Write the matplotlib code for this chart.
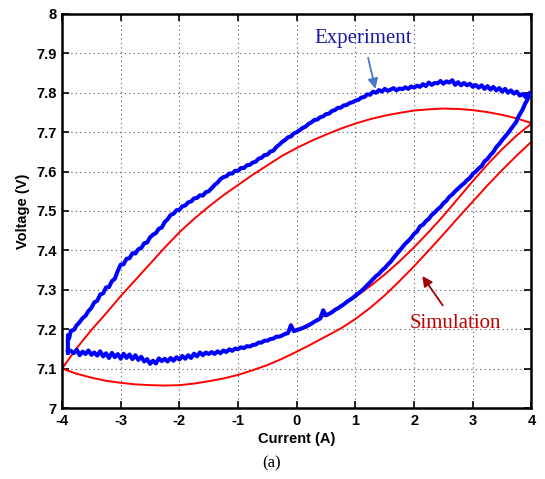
import matplotlib
matplotlib.use("Agg")
from matplotlib import pyplot as plt

# simulation loop (red)
sim_up_x = [-4.0, -3.75, -3.5, -3.25, -3.0, -2.75, -2.5, -2.25, -2.0, -1.75, -1.5, -1.25, -1.0, -0.75,
            -0.5, -0.25, 0.0, 0.25, 0.5, 0.75, 1.0, 1.25, 1.5, 1.75, 2.0, 2.25, 2.5, 2.75, 3.0, 3.25,
            3.5, 3.75, 4.0]
sim_up_y = [7.100, 7.152, 7.198, 7.240, 7.284, 7.325, 7.366, 7.407, 7.446, 7.480, 7.511, 7.540, 7.566,
            7.592, 7.616, 7.640, 7.660, 7.678, 7.694, 7.709, 7.722, 7.733, 7.742, 7.749, 7.755, 7.758,
            7.760, 7.759, 7.756, 7.751, 7.744, 7.735, 7.723]

sim_low_x = sim_up_x
sim_low_y = [7.100, 7.087, 7.077, 7.069, 7.064, 7.060, 7.058, 7.057, 7.058, 7.062, 7.068, 7.075, 7.084,
             7.096, 7.109, 7.125, 7.143, 7.162, 7.182, 7.202, 7.226, 7.254, 7.286, 7.322, 7.360, 7.400,
             7.441, 7.483, 7.524, 7.565, 7.604, 7.641, 7.676]

sim_mid_x = [0.0, 0.25, 0.5, 0.75, 1.0, 1.25, 1.5, 1.75, 2.0, 2.25, 2.5, 2.75, 3.0, 3.25, 3.5, 3.75, 4.0]
sim_mid_y = [7.198, 7.216, 7.236, 7.258, 7.282, 7.309, 7.339, 7.372, 7.408, 7.447, 7.488, 7.532, 7.576,
             7.618, 7.657, 7.692, 7.722]

# experiment loop (blue), noisy trace
# upper branch, left to right
exp_up_x = [-3.90, -3.90, -3.88, -3.85, -3.80, -3.75, -3.70, -3.65, -3.60, -3.55,
            -3.50, -3.45, -3.40, -3.35, -3.30, -3.25, -3.20, -3.15, -3.10, -3.05,
            -3.00, -2.95, -2.90, -2.85, -2.80, -2.75, -2.70, -2.65, -2.60, -2.55,
            -2.50, -2.45, -2.40, -2.35, -2.30, -2.25, -2.20, -2.15, -2.10, -2.05,
            -2.00, -1.95, -1.90, -1.85, -1.80, -1.75, -1.70, -1.65, -1.60, -1.55,
            -1.50, -1.45, -1.40, -1.35, -1.30, -1.25, -1.20, -1.15, -1.10, -1.05,
            -1.00, -0.95, -0.90, -0.85, -0.80, -0.75, -0.70, -0.65, -0.60, -0.55,
            -0.50, -0.45, -0.40, -0.35, -0.30, -0.25, -0.20, -0.15, -0.10, -0.05,
            0.00, 0.05, 0.10, 0.15, 0.20, 0.25, 0.30, 0.35, 0.40, 0.45,
            0.50, 0.55, 0.60, 0.65, 0.70, 0.75, 0.80, 0.85, 0.90, 0.95,
            1.00, 1.05, 1.10, 1.15, 1.20, 1.25, 1.30, 1.35, 1.40, 1.45,
            1.50, 1.55, 1.60, 1.65, 1.70, 1.75, 1.80, 1.85, 1.90, 1.95,
            2.00, 2.05, 2.10, 2.15, 2.20, 2.25, 2.30, 2.35, 2.40, 2.45,
            2.50, 2.55, 2.60, 2.65, 2.70, 2.75, 2.80, 2.85, 2.90, 2.95,
            3.00, 3.05, 3.10, 3.15, 3.20, 3.25, 3.30, 3.35, 3.40, 3.45,
            3.50, 3.55, 3.60, 3.65, 3.70, 3.75, 3.80, 3.85, 3.90, 3.95,
            3.97]
exp_up_y = [7.140, 7.185, 7.176, 7.196, 7.198, 7.210, 7.218, 7.228, 7.234, 7.246,
            7.254, 7.268, 7.272, 7.288, 7.291, 7.306, 7.307, 7.322, 7.328, 7.348,
            7.364, 7.365, 7.379, 7.380, 7.393, 7.392, 7.403, 7.406, 7.418, 7.420,
            7.433, 7.440, 7.444, 7.455, 7.458, 7.472, 7.479, 7.490, 7.493, 7.502,
            7.503, 7.512, 7.514, 7.522, 7.524, 7.532, 7.533, 7.540, 7.539, 7.548,
            7.550, 7.558, 7.566, 7.572, 7.581, 7.586, 7.588, 7.595, 7.595, 7.602,
            7.602, 7.609, 7.609, 7.616, 7.617, 7.623, 7.625, 7.633, 7.635, 7.642,
            7.643, 7.651, 7.653, 7.662, 7.668, 7.675, 7.680, 7.687, 7.689, 7.697,
            7.700, 7.705, 7.711, 7.714, 7.721, 7.725, 7.731, 7.732, 7.738, 7.740,
            7.746, 7.747, 7.754, 7.756, 7.762, 7.762, 7.768, 7.769, 7.774, 7.776,
            7.780, 7.782, 7.788, 7.789, 7.796, 7.795, 7.803, 7.800, 7.807, 7.803,
            7.810, 7.805, 7.808, 7.812, 7.806, 7.811, 7.809, 7.814, 7.810, 7.816,
            7.813, 7.818, 7.815, 7.822, 7.817, 7.826, 7.820, 7.825, 7.824, 7.830,
            7.823, 7.829, 7.826, 7.832, 7.820, 7.827, 7.819, 7.825, 7.819, 7.823,
            7.815, 7.820, 7.813, 7.819, 7.810, 7.817, 7.808, 7.815, 7.806, 7.812,
            7.803, 7.810, 7.800, 7.806, 7.798, 7.803, 7.793, 7.797, 7.789, 7.797,
            7.795]

# lower branch, right to left
exp_down_x = [3.97, 3.93, 3.89, 3.85, 3.82, 3.78, 3.74, 3.70, 3.65, 3.60,
              3.55, 3.50, 3.45, 3.40, 3.35, 3.30, 3.25, 3.20, 3.15, 3.10,
              3.05, 3.00, 2.95, 2.90, 2.85, 2.80, 2.75, 2.70, 2.65, 2.60,
              2.55, 2.50, 2.45, 2.40, 2.35, 2.30, 2.25, 2.20, 2.15, 2.10,
              2.05, 2.00, 1.95, 1.90, 1.85, 1.80, 1.75, 1.70, 1.65, 1.60,
              1.55, 1.50, 1.45, 1.40, 1.35, 1.30, 1.25, 1.20, 1.15, 1.10,
              1.05, 1.00, 0.95, 0.90, 0.85, 0.80, 0.75, 0.70, 0.65, 0.60,
              0.55, 0.50, 0.45, 0.40, 0.35, 0.30, 0.25, 0.20, 0.15, 0.10,
              0.05, 0.00, -0.05, -0.10, -0.15, -0.20, -0.25, -0.30, -0.35, -0.40,
              -0.45, -0.50, -0.55, -0.60, -0.65, -0.70, -0.75, -0.80, -0.85, -0.90,
              -0.95, -1.00, -1.05, -1.10, -1.15, -1.20, -1.25, -1.30, -1.35, -1.40,
              -1.45, -1.50, -1.55, -1.60, -1.65, -1.70, -1.75, -1.80, -1.85, -1.90,
              -1.95, -2.00, -2.05, -2.10, -2.15, -2.20, -2.25, -2.30, -2.35, -2.40,
              -2.45, -2.50, -2.55, -2.60, -2.65, -2.70, -2.75, -2.80, -2.85, -2.90,
              -2.95, -3.00, -3.05, -3.10, -3.15, -3.20, -3.25, -3.30, -3.35, -3.40,
              -3.45, -3.50, -3.55, -3.60, -3.65, -3.70, -3.75, -3.80, -3.85, -3.90]
exp_down_y = [7.800, 7.782, 7.772, 7.758, 7.750, 7.740, 7.726, 7.718, 7.708, 7.698,
              7.689, 7.680, 7.670, 7.662, 7.650, 7.642, 7.632, 7.626, 7.614, 7.608,
              7.600, 7.594, 7.584, 7.578, 7.570, 7.564, 7.557, 7.550, 7.542, 7.536,
              7.526, 7.520, 7.510, 7.504, 7.496, 7.490, 7.480, 7.474, 7.465, 7.461,
              7.448, 7.442, 7.432, 7.424, 7.417, 7.408, 7.399, 7.390, 7.381, 7.371,
              7.364, 7.355, 7.349, 7.340, 7.335, 7.327, 7.319, 7.312, 7.304, 7.297,
              7.291, 7.285, 7.279, 7.274, 7.269, 7.263, 7.258, 7.253, 7.249, 7.243,
              7.239, 7.235, 7.248, 7.227, 7.223, 7.219, 7.214, 7.210, 7.206, 7.203,
              7.200, 7.198, 7.195, 7.210, 7.190, 7.188, 7.184, 7.181, 7.181, 7.176,
              7.175, 7.171, 7.171, 7.166, 7.166, 7.161, 7.160, 7.156, 7.157, 7.152,
              7.154, 7.149, 7.151, 7.145, 7.149, 7.142, 7.146, 7.139, 7.144, 7.137,
              7.142, 7.137, 7.141, 7.134, 7.141, 7.131, 7.138, 7.127, 7.134, 7.125,
              7.132, 7.123, 7.129, 7.120, 7.127, 7.118, 7.125, 7.119, 7.126, 7.113,
              7.120, 7.112, 7.124, 7.118, 7.130, 7.122, 7.134, 7.124, 7.136, 7.127,
              7.138, 7.125, 7.137, 7.129, 7.140, 7.127, 7.139, 7.131, 7.144, 7.133,
              7.141, 7.135, 7.146, 7.137, 7.143, 7.134, 7.148, 7.139, 7.145, 7.147]

xticks = [-4, -3, -2, -1, 0, 1, 2, 3, 4]
yticks = [7.0, 7.1, 7.2, 7.3, 7.4, 7.5, 7.6, 7.7, 7.8, 7.9, 8.0]
ytick_labels = ["7", "7.1", "7.2", "7.3", "7.4", "7.5", "7.6", "7.7", "7.8", "7.9", "8"]

plt.rcParams['font.family'] = ['Liberation Sans', 'DejaVu Sans']

fig = plt.figure(figsize=(5.45, 4.79), dpi=100)
ax = fig.add_axes([0.1138, 0.1482, 0.9752 - 0.1138, 0.9708 - 0.1482])

ax.plot(sim_up_x, sim_up_y, color='#ff0000', lw=1.4, zorder=2)
ax.plot(sim_low_x, sim_low_y, color='#ff0000', lw=1.4, zorder=2)
ax.plot(sim_mid_x, sim_mid_y, color='#ff0000', lw=1.4, zorder=2)
ax.plot(exp_up_x + exp_down_x, exp_up_y + exp_down_y, color='#0000ff', lw=2.9, zorder=3)

ax.set_xlim(-4, 4)
ax.set_ylim(7, 8)
ax.set_xticks(xticks)
ax.set_xticklabels([str(t) for t in xticks])
ax.set_yticks(yticks)
ax.set_yticklabels(ytick_labels)
ax.grid(True, linestyle=(0, (1, 3)), color='#555555', linewidth=0.8)
ax.tick_params(direction='in', length=5, width=1.2, top=True, right=True, pad=4,
               labelsize=10.5)
for lbl in ax.get_xticklabels() + ax.get_yticklabels():
    lbl.set_fontweight('bold')
for sp in ax.spines.values():
    sp.set_linewidth(1.8)

ax.set_xlabel('Current (A)', fontsize=10.5, fontweight='bold', labelpad=3)
ax.set_ylabel('Voltage (V)', fontsize=10.5, fontweight='bold', labelpad=4)

serif = ['Liberation Serif', 'DejaVu Serif']
ax.annotate('Experiment', xy=(1.34, 7.81), xytext=(1.14, 7.937), family=serif, fontsize=15,
            color='#1a1aa6', ha='center', va='center',
            arrowprops=dict(arrowstyle='-|>', color='#4a78c8', lw=1.3, mutation_scale=15,
                            shrinkA=5, shrinkB=0))
ax.annotate('Simulation', xy=(2.14, 7.335), xytext=(2.7, 7.215), family=serif, fontsize=15,
            color='#c00000', ha='center', va='center',
            arrowprops=dict(arrowstyle='-|>', color='#a00000', lw=1.3, mutation_scale=15,
                            shrinkA=5, shrinkB=0))

fig.text(272 / 545, 1 - 463 / 479, '(a)', family=serif, fontsize=12, ha='center', va='center')

fig.savefig('out.png', dpi=100)
